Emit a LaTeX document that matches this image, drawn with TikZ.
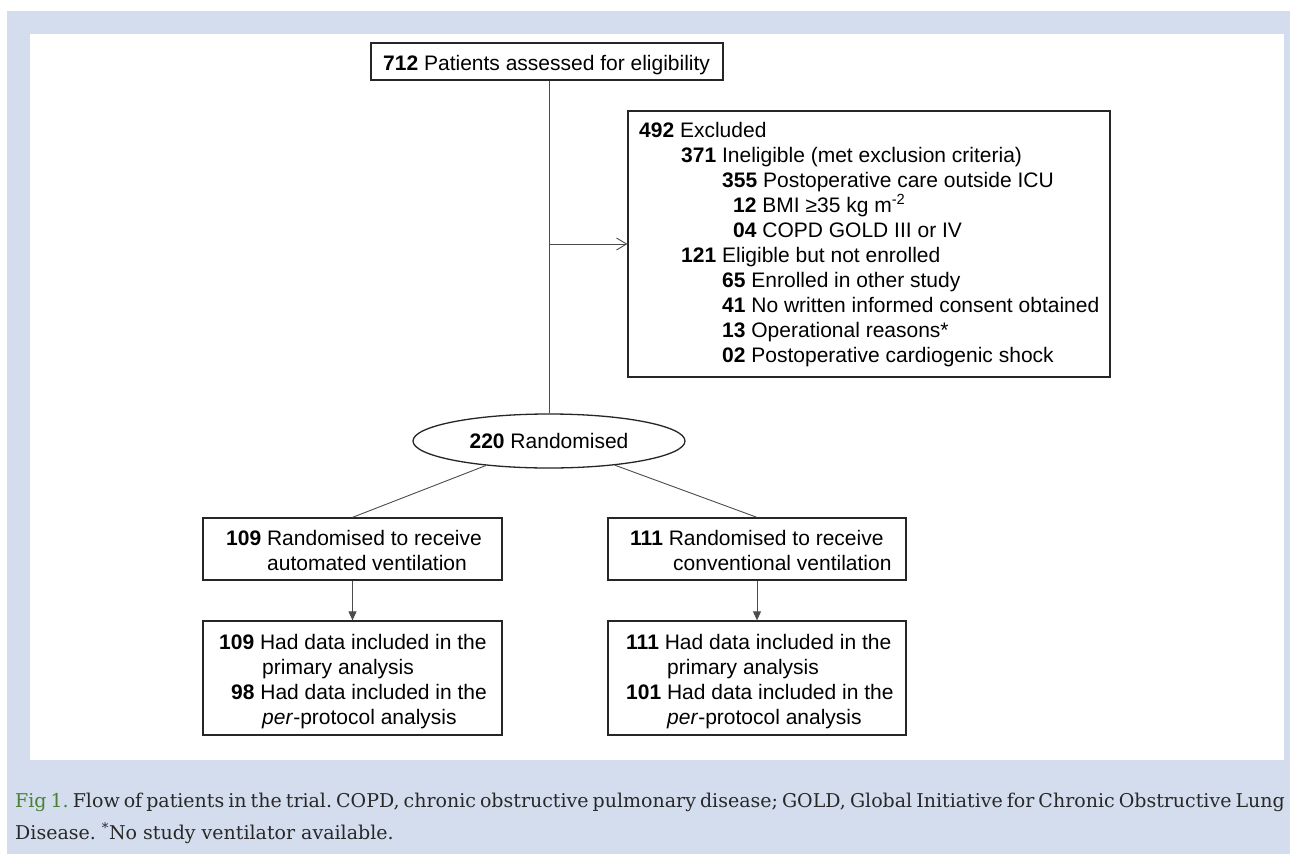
\documentclass[tikz,border=0pt]{standalone}
\usepackage{fontspec}
\setmainfont{Liberation Sans}
\newfontfamily\capfont{DejaVu Serif}
\usetikzlibrary{arrows.meta,shapes.geometric}
\definecolor{bgblue}{RGB}{212,221,238}
\definecolor{figgreen}{RGB}{72,128,52}
\definecolor{capgray}{RGB}{40,40,40}
\begin{document}
\frenchspacing
\begin{tikzpicture}[x=1pt,y=-1pt,
  box/.style={draw=black!85, line width=1.3pt, rectangle, inner sep=0pt},
  txt/.style={anchor=base west, inner sep=0pt, font=\fontsize{21}{25}\selectfont},
  conn/.style={draw=black!70, line width=0.9pt},
  openarrow/.style={-{Straight Barb[length=10pt,width=12pt]}},
  filledarrow/.style={-{Triangle[length=9pt,width=8pt]}},
  captxt/.style={anchor=base west, inner sep=0pt, text=capgray, font=\capfont\fontsize{19}{24}\selectfont}
]
\useasboundingbox (0,0) rectangle (1295,854);
\fill[bgblue] (7,11) rectangle (1290,854);
\fill[white] (30,34) rectangle (1284,760);

% top box
\node[box, minimum width=352pt, minimum height=37pt] (top) at (547,61.5) {};
\node[txt] (t1) at (383,70) {\textbf{712} Patients assessed for eligibility};

% excluded box
\node[box, minimum width=482pt, minimum height=266pt] (excl) at (869,244) {};
\node[txt] (e1) at (639,137) {\textbf{492} Excluded};
\node[txt] (e2) at (681,162) {\textbf{371} Ineligible (met exclusion criteria)};
\node[txt] (e3) at (722,187) {\textbf{355} Postoperative care outside ICU};
\node[txt] (e4) at (733,212) {\textbf{12} BMI ≥35 kg m\textsuperscript{-2}};
\node[txt] (e5) at (733,237) {\textbf{04} COPD GOLD III or IV};
\node[txt] (e6) at (681,262) {\textbf{121} Eligible but not enrolled};
\node[txt] (e7) at (722,287) {\textbf{65} Enrolled in other study};
\node[txt] (e8) at (722,312) {\textbf{41} No written informed consent obtained};
\node[txt] (e9) at (722,337) {\textbf{13} Operational reasons*};
\node[txt] (e10) at (722,362) {\textbf{02} Postoperative cardiogenic shock};

% randomised ellipse
\node[draw=black!85, line width=1.3pt, ellipse, minimum width=272pt, minimum height=54pt, inner sep=0pt,
      font=\fontsize{21}{25}\selectfont] (ell) at (549,441) {\textbf{220} Randomised};

% arm boxes
\node[box, minimum width=299pt, minimum height=62pt] (b1) at (352.5,549) {};
\node[txt] (b1a) at (226,545.5) {\textbf{109} Randomised to receive};
\node[txt] (b1b) at (267,570.5) {automated ventilation};
\node[box, minimum width=298pt, minimum height=62pt] (b2) at (757,549) {};
\node[txt] (b2a) at (630,545.5) {\textbf{111} Randomised to receive};
\node[txt] (b2b) at (673,570.5) {conventional ventilation};

% analysis boxes
\node[box, minimum width=299pt, minimum height=114pt] (c1) at (352.5,678) {};
\node[txt] (c1a) at (219,649.5) {\textbf{109} Had data included in the};
\node[txt] (c1b) at (262,674.5) {primary analysis};
\node[txt] (c1c) at (231,699.5) {\textbf{98} Had data included in the};
\node[txt] (c1d) at (262,724.5) {\textit{per}-protocol analysis};
\node[box, minimum width=298pt, minimum height=114pt] (c2) at (757,678) {};
\node[txt] (c2a) at (626,649.5) {\textbf{111} Had data included in the};
\node[txt] (c2b) at (667,674.5) {primary analysis};
\node[txt] (c2c) at (626,699.5) {\textbf{101} Had data included in the};
\node[txt] (c2d) at (667,724.5) {\textit{per}-protocol analysis};

% connectors
\coordinate (vtop) at (ell.north |- top.south);
\coordinate (vmid) at (ell.north |- excl.west);
\draw[conn] (vtop) -- (ell.north);
\draw[conn, openarrow] (vmid) -- (excl.west);
\draw[conn] (ell) -- (b1.north);
\draw[conn] (ell) -- (b2.north);
\draw[conn, filledarrow] (b1.south) -- (c1.north);
\draw[conn, filledarrow] (b2.south) -- (c2.north);

% caption
\node[captxt] (cap1) at (15,807) {\makebox[1269pt][s]{\textcolor{figgreen}{Fig 1.} Flow of patients in the trial. COPD, chronic obstructive pulmonary disease; GOLD, Global Initiative for Chronic Obstructive Lung}};
\node[captxt] (cap2) at (15,839) {Disease. \textsuperscript{*}No study ventilator available.};
\end{tikzpicture}
\end{document}
